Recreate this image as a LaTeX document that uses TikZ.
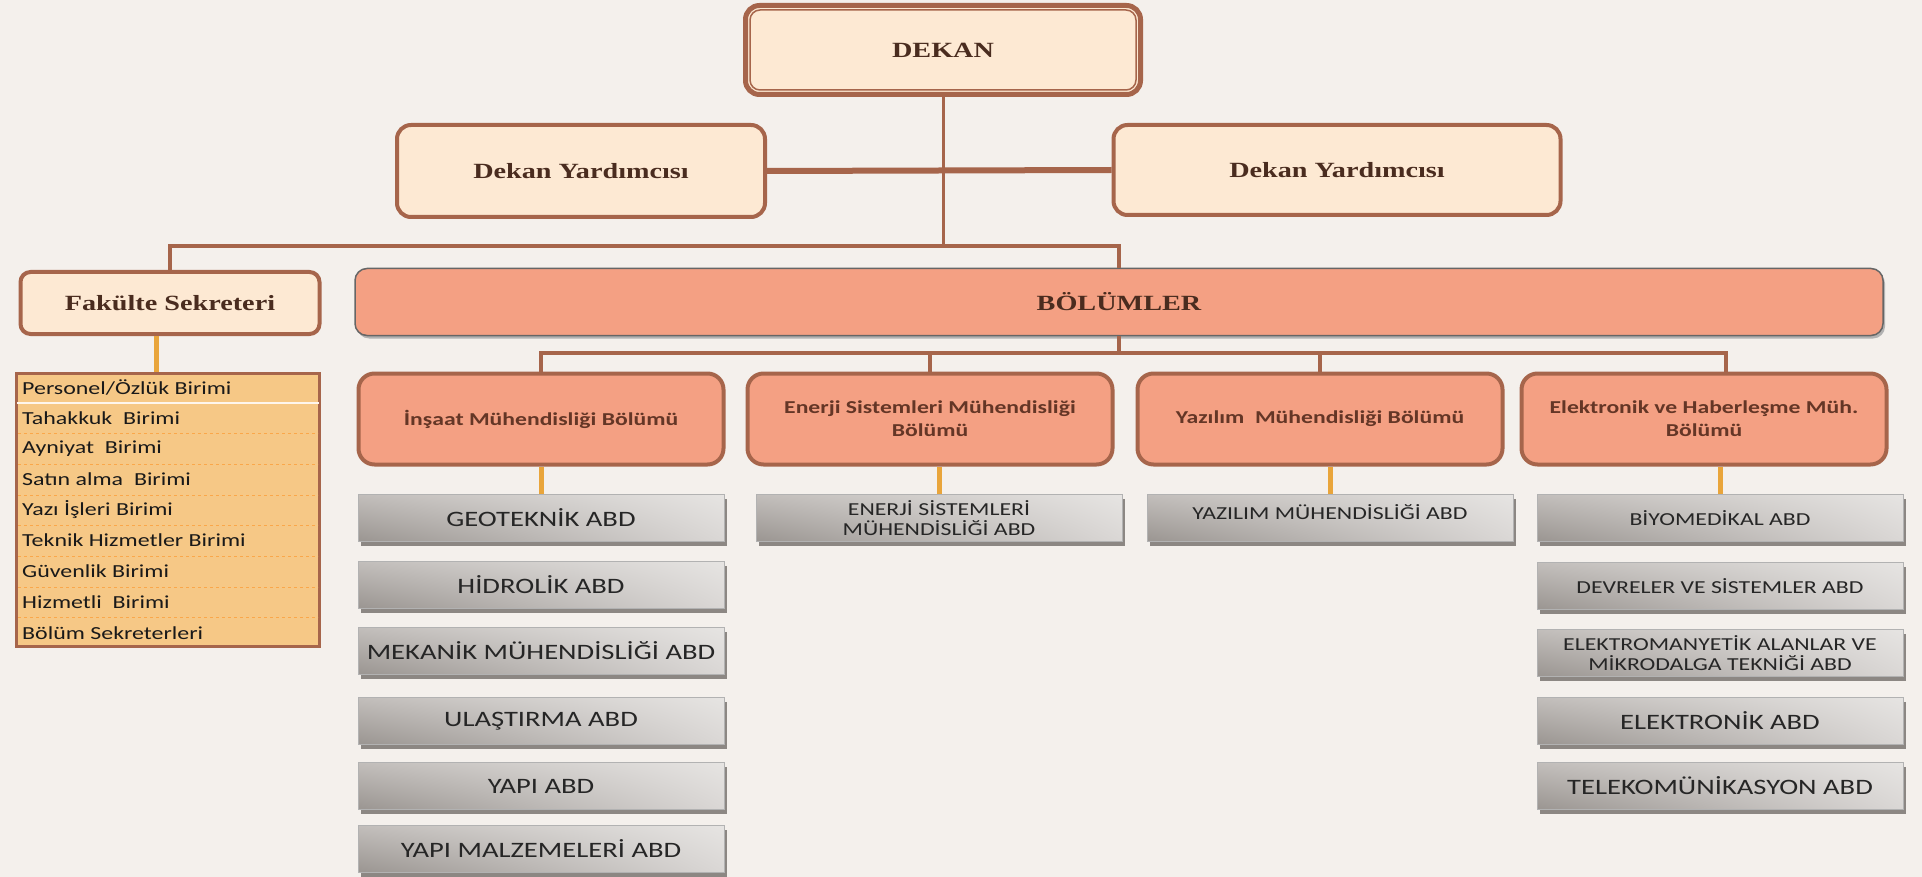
\documentclass[tikz,border=0pt]{standalone}
\usepackage{fontspec}
\setmainfont[FakeStretch=1.3]{Liberation Serif}
\newfontfamily\calfont[FakeStretch=1.3]{Carlito}
\usetikzlibrary{shadows,shadings}
\definecolor{zemin}{HTML}{F4F0EC}
\definecolor{kahve}{HTML}{A6654B}
\definecolor{krem}{HTML}{FDE9D3}
\definecolor{somon}{HTML}{F4A083}
\definecolor{turuncu}{HTML}{E9A53B}
\definecolor{liste}{HTML}{F6C886}
\definecolor{yazi}{HTML}{4A2C1F}
\definecolor{bolyazi}{HTML}{643626}
\definecolor{gri1}{HTML}{C2BEBB}
\definecolor{gri2}{HTML}{E6E4E2}
\definecolor{gri3}{HTML}{9A9591}
\definecolor{gri4}{HTML}{DAD7D5}
\definecolor{golge}{HTML}{8C8783}

\begin{document}
\begin{tikzpicture}[x=1pt,y=-1pt,
  ustkutu/.style={draw=kahve,line width=4pt,fill=krem,rounded corners=14pt,text=yazi,
    font=\fontsize{21.7}{24}\selectfont\bfseries},
  bolum/.style={draw=kahve,line width=4pt,fill=somon,rounded corners=16pt,minimum width=365pt,
    minimum height=91pt,text=bolyazi,align=center,font=\calfont\bfseries\fontsize{18.2}{23}\selectfont},
  abd/.style={draw=gray!60,line width=0.8pt,upper left=gri1,upper right=gri2,lower left=gri3,
    lower right=gri4,minimum width=366pt,minimum height=47pt,align=center,text=black!85,
    font=\calfont\fontsize{22}{24}\selectfont,
    drop shadow={shadow xshift=3pt,shadow yshift=-4pt,fill=golge,opacity=1}},
  kucuk/.style={font=\calfont\fontsize{18.3}{20}\selectfont},
  link/.style={draw=kahve,line width=4pt},
  olink/.style={draw=turuncu,line width=5pt},
  ayrac/.style={draw=orange!45!liste,dashed,line width=0.6pt}]
\fill[zemin,use as bounding box] (0,0) rectangle (1922,877);

\node[ustkutu,minimum width=395pt,minimum height=89pt,line width=5pt] (dekan) at (943,50){DEKAN};
\draw[kahve,line width=1.5pt,rounded corners=10pt] ([shift={(7,7)}]dekan.north west) rectangle ([shift={(-7,-7)}]dekan.south east);
\node[ustkutu,minimum width=368pt,minimum height=92pt] (yrd1) at (581,171){Dekan Yardımcısı};
\node[ustkutu,minimum width=447pt,minimum height=90pt] (yrd2) at (1337,170){Dekan Yardımcısı};
\node[ustkutu,rounded corners=10pt,minimum width=299pt,minimum height=62pt] (fks) at (170,303){Fakülte Sekreteri};
\node[draw=gray!80!black,line width=1.5pt,fill=somon,rounded corners=12pt,minimum width=1528pt,
  minimum height=67pt,text=yazi,font=\fontsize{21.7}{24}\selectfont\bfseries,
  drop shadow={shadow xshift=2pt,shadow yshift=-3pt,fill=gray!60,opacity=1}] (bolumler) at (1119,302){BÖLÜMLER};

\coordinate (ayrim) at (943,246);
\draw[link,line width=3pt] (dekan.south) -- (ayrim);
\draw[link,line width=6pt] (yrd1.east) -- (yrd2.west);
\draw[link] (fks.north) |- (ayrim) -| (bolumler.north);

\node[bolum] (insaat) at (541,419){İnşaat Mühendisliği Bölümü};
\node[bolum] (enerji) at (930,419){Enerji Sistemleri Mühendisliği\\Bölümü};
\node[bolum] (yazilim) at (1320,419){Yazılım\ \ Mühendisliği Bölümü};
\node[bolum] (elektronik) at (1704,419){Elektronik ve Haberleşme Müh.\\Bölümü};

\coordinate (dal) at (1119,353);
\draw[link] (bolumler.south) -- (dal);
\draw[link] (insaat.north) |- (dal) -| ([xshift=22pt]elektronik.north);
\draw[link] (enerji.north) -- (enerji.north |- dal);
\draw[link] (yazilim.north) -- (yazilim.north |- dal);

\node[draw=kahve,line width=3pt,fill=liste,minimum width=303pt,minimum height=273pt] (birim) at (168,510){};
\foreach \j in {2,...,8}
  \draw[ayrac] (18,{372+30.7*\j}) -- (318,{372+30.7*\j});
\draw[krem!40!white,line width=2.5pt] (17,403) -- (319,403);
\foreach \b [count=\i] in {Personel/Özlük Birimi, Tahakkuk\ \ Birimi, Ayniyat\ \ Birimi,
  Satın alma\ \ Birimi, Yazı İşleri Birimi, Teknik Hizmetler Birimi, Güvenlik Birimi,
  Hizmetli\ \ Birimi, Bölüm Sekreterleri}
  \node[anchor=west,inner sep=0pt,text=black!90,font=\calfont\fontsize{18.4}{20}\selectfont] (b\i) at (22,{372+30.7*\i-15.6}){\b};
\draw[olink] ([xshift=-14pt]fks.south) -- ([xshift=-14pt]fks.south |- birim.north);

\foreach \ad/\y [count=\i] in {GEOTEKNİK ABD/518, HİDROLİK ABD/585, MEKANİK MÜHENDİSLİĞİ ABD/651,
  ULAŞTIRMA ABD/721, YAPI ABD/786, YAPI MALZEMELERİ ABD/849}
  \node[abd] (ins\i) at (541,\y){\ad};
\node[abd,kucuk] (enabd) at (939,518){ENERJİ SİSTEMLERİ\\MÜHENDİSLİĞİ ABD};
\node[abd,kucuk,text depth=12pt] (yzabd) at (1330,518){YAZILIM MÜHENDİSLİĞİ ABD};
\foreach \ad/\y/\st [count=\i] in {BİYOMEDİKAL ABD/518/kucuk, DEVRELER VE SİSTEMLER ABD/586/kucuk,
  ELEKTROMANYETİK ALANLAR VE\\MİKRODALGA TEKNİĞİ ABD/653/kucuk, ELEKTRONİK ABD/721/, TELEKOMÜNİKASYON ABD/786/}
  \node[abd,\st] (elk\i) at (1720,\y){\ad};

\draw[olink] (ins1.north) -- (ins1.north |- insaat.south);
\draw[olink] (enabd.north) -- (enabd.north |- enerji.south);
\draw[olink] (yzabd.north) -- (yzabd.north |- yazilim.south);
\draw[olink] (elk1.north) -- (elk1.north |- elektronik.south);
\end{tikzpicture}
\end{document}
